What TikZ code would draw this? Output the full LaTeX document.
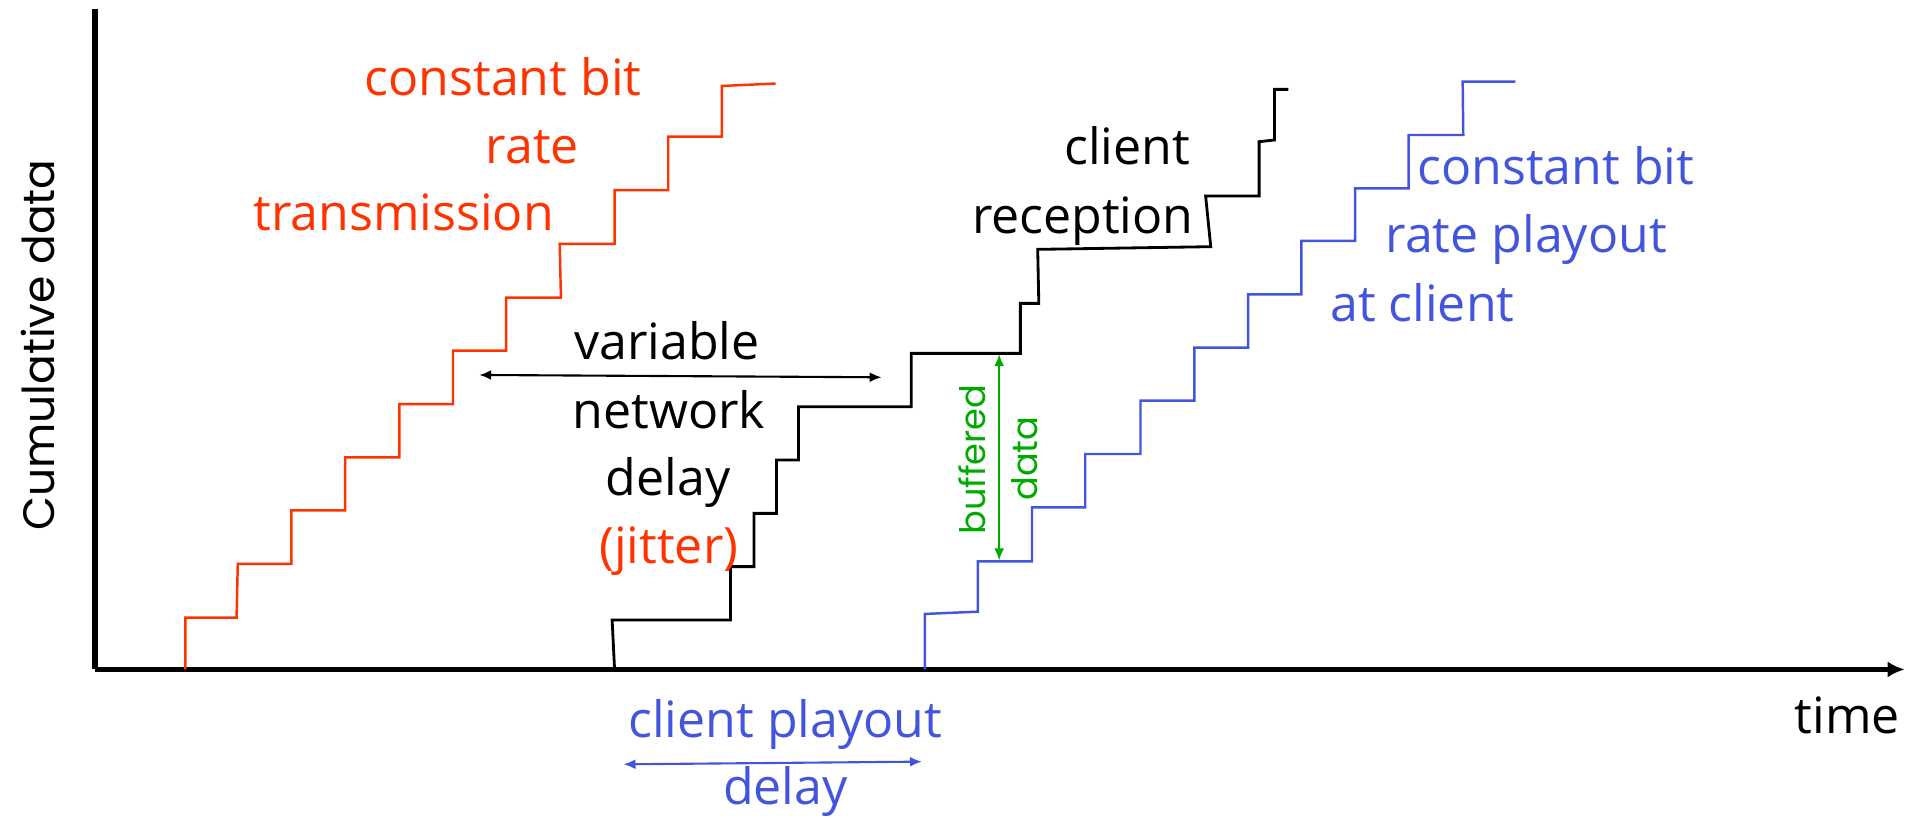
\documentclass[tikz,border=0pt]{standalone}
\usepackage{fontspec}
\setmainfont{Open Sans}
\newfontfamily\geofont{Poppins}
\usetikzlibrary{arrows.meta}
\definecolor{cred}{RGB}{255,51,0}
\definecolor{cblue}{RGB}{68,85,221}
\definecolor{cgreen}{RGB}{0,170,0}
\begin{document}
\begin{tikzpicture}[x=0.024388cm, y=-0.024388cm,
  lbl/.style={inner sep=0, anchor=base, font=\fontsize{28.5}{34}\selectfont},
  axislbl/.style={inner sep=0, anchor=base, font=\geofont\fontsize{25}{30}\selectfont},
  buflbl/.style={inner sep=0, anchor=base, font=\geofont\fontsize{20}{24}\selectfont, text=cgreen, rotate=90},
  axisline/.style={line width=3pt},
  stair/.style={line width=1.4pt, line join=miter},
  dbl/.style={line width=1.2pt, {Latex[length=0.24cm,width=0.2cm]}-{Latex[length=0.24cm,width=0.2cm]}}
]
\useasboundingbox (0,0) rectangle (1568,671);

% axes
\coordinate (ytop) at (78,7);
\coordinate (orig) at (78,549);
\coordinate (xend) at (1562,549);
\draw[axisline] (ytop) -- (orig);
\draw[axisline, -{Latex[length=0.34cm,width=0.32cm]}] (orig) -- (xend);

% red staircase: constant bit rate transmission
\draw[stair, cred] (152,549) -- (152,506.5) -- (194,506.5) -- (195,462.5) -- (239,462.5)
  -- (239,418.5) -- (283,418.5) -- (283,375) -- (327.5,375) -- (327.5,331.5)
  -- (371.5,331.5) -- (371.5,287.5) -- (415,287.5) -- (415,244) -- (460,244)
  -- (459,200) -- (504,200) -- (504,156) -- (548,156) -- (548,112) -- (592,112)
  -- (592,70.5) -- (636,68.5);

% black staircase: client reception
\draw[stair, black, line width=1.6pt] (504,549) -- (502,508.5) -- (599,508.5) -- (599,464.7)
  -- (618.4,464.7) -- (618.4,421) -- (636.8,421) -- (636.8,377.2) -- (654.8,377.2)
  -- (654.8,333.5) -- (747.3,333.5) -- (747.3,289.8) -- (836.8,289.8) -- (836.8,248.8)
  -- (851.9,248.8) -- (851,204.5) -- (992.9,202.3) -- (988.7,160.7) -- (1032.6,160.7)
  -- (1032.6,116.2) -- (1045.2,114.8) -- (1045.2,73.3) -- (1056.5,73.3);

% blue staircase: playout
\draw[stair, cblue] (758.4,549) -- (758.4,503.5) -- (802,501.6) -- (802,460.3) -- (846.3,460.3)
  -- (846.3,416) -- (890,416) -- (890,372.3) -- (935.3,372.3) -- (935.3,328.5)
  -- (979.5,328.5) -- (979.5,285) -- (1023.5,285) -- (1023.5,241.4) -- (1067.3,241.4)
  -- (1067.3,197.6) -- (1111.3,197.6) -- (1111.3,154.5) -- (1155.2,154.5) -- (1155.2,110.7)
  -- (1200,110.7) -- (1199.5,67) -- (1242.7,67);

% arrows
\coordinate (jl) at (393,307.5);
\coordinate (jr) at (723,309.4);
\draw[dbl, black] (jl) -- (jr);
\coordinate (pl) at (511.3,626.8);
\coordinate (pr) at (756.1,624.6);
\draw[dbl, cblue] (pl) -- (pr);
\coordinate (bt) at (819.4,290.5);
\coordinate (bb) at (819.4,459.5);
\draw[dbl, cgreen, line width=1pt] (bt) -- (bb);

% labels
\node[axislbl, rotate=90] (ylab) at (44.5,283) {Cumulative data};
\node[lbl] (tlab) at (1515,601.4) {time};

\node[lbl, text=cred] (r1) at (412.5,78) {constant bit};
\node[lbl, text=cred] (r2) at (436.5,134) {rate};
\node[lbl, text=cred] (r3) at (331,189.4) {transmission};

\node[lbl] (v1) at (547,294.7) {variable};
\node[lbl] (v2) at (548.5,351.3) {network};
\node[lbl] (v3) at (548,406) {delay};
\node[lbl, text=cred] (v4) at (548.5,462) {(jitter)};

\node[lbl] (c1) at (924.5,135.3) {client};
\node[lbl] (c2) at (888,191.3) {reception};

\node[lbl, text=cblue] (b1) at (1276,151.7) {constant bit};
\node[lbl, text=cblue] (b2) at (1251.7,207.2) {rate playout};
\node[lbl, text=cblue] (b3) at (1166.5,263.8) {at client};

\node[lbl, text=cblue] (d1) at (644,604.7) {client playout};
\node[lbl, text=cblue] (d2) at (644,660) {delay};

\node[buflbl] (g1) at (808,377) {buffered};
\node[buflbl] (g2) at (851,376) {data};
\end{tikzpicture}
\end{document}
